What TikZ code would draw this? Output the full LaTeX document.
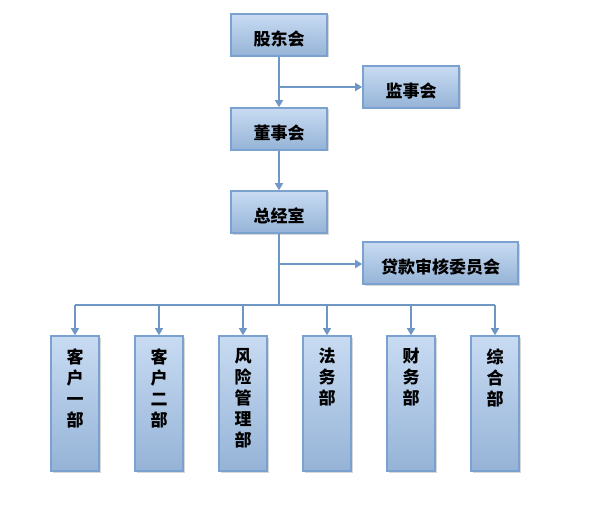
\documentclass[tikz,border=0pt]{standalone}
\usepackage{fontspec}
\newfontfamily\cjk{Noto Sans CJK SC}
\usetikzlibrary{arrows.meta,shadows}
\definecolor{boxtop}{HTML}{C8DBF2}
\definecolor{boxbot}{HTML}{95B3D7}
\definecolor{boxedge}{HTML}{7BA1CE}
\definecolor{linec}{HTML}{6E97C6}
\tikzset{
  box/.style={draw=boxedge, line width=1.6pt, top color=boxtop, bottom color=boxbot,
    drop shadow={shadow xshift=1.5pt, shadow yshift=-1.5pt, opacity=0.25, fill=black!60},
    inner sep=0pt, font=\cjk\bfseries\fontsize{17}{21}\selectfont, text=black},
  hbox/.style={box, minimum width=96pt, minimum height=42pt, text height=21pt, text depth=0pt},
  vbox/.style={box, minimum width=48pt, minimum height=135pt},
  vtext/.style={anchor=north, align=center, font=\cjk\bfseries\fontsize{17}{21}\selectfont, inner sep=0pt},
  conn/.style={draw=linec, line width=1.6pt},
  arr/.style={conn, -{Triangle[width=8pt,length=7pt]}},
}
\begin{document}
\begin{tikzpicture}[x=1pt,y=-1pt]
\useasboundingbox (0,0) rectangle (608,508);
\fill[white] (0,0) rectangle (608,508);
\node[hbox] (gd) at (279,35) {股东会};
\node[hbox] (js) at (411,87) {监事会};
\node[hbox] (ds) at (279,129) {董事会};
\node[hbox] (zj) at (279,212) {总经室};
\node[hbox, minimum width=155pt] (dk) at (440.5,263) {贷款审核委员会};
\foreach \n/\x/\t in {d1/75/{客\\户\\一\\部}, d2/159/{客\\户\\二\\部}, d3/243/{风\\险\\管\\理\\部}, d4/327/{法\\务\\部}, d5/411/{财\\务\\部}, d6/495/{综\\合\\部}}{
  \node[vbox] (\n) at (\x,403.5) {};
  \node[vtext] (\n t) at ([yshift=-13pt]\n.north) {\t};
}
\coordinate (j1) at (279,87);
\coordinate (j2) at (279,264);
\coordinate (bus) at (279,305);
\draw[arr] (gd.south) -- (ds.north);
\draw[arr] (j1) -- (js.west);
\draw[arr] (ds.south) -- (zj.north);
\draw[conn] (zj.south) -- (bus);
\draw[arr] (j2) -- (dk.west |- j2);
\draw[conn] (d1.north |- bus) -- (d6.north |- bus);
\foreach \n in {d1,d2,d3,d4,d5,d6}{
  \draw[arr] (\n.north |- bus) -- (\n.north);
}
\end{tikzpicture}
\end{document}
